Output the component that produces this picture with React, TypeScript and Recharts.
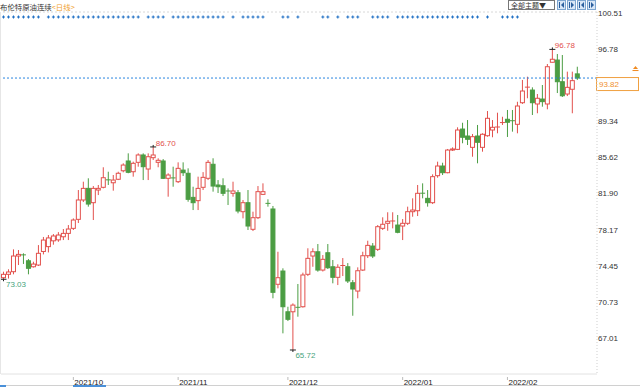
import React from "react";
import { Bar, ComposedChart, ReferenceLine, XAxis, YAxis } from "recharts";

// trading days, 2021-09-13 .. 2022-02-21
const dates = [
  "2021-09-13", "2021-09-14", "2021-09-15", "2021-09-16", "2021-09-17", "2021-09-20", "2021-09-21", "2021-09-22", "2021-09-23", "2021-09-24",
  "2021-09-27", "2021-09-28", "2021-09-29", "2021-09-30", "2021-10-01", "2021-10-04", "2021-10-05", "2021-10-06", "2021-10-07", "2021-10-08",
  "2021-10-11", "2021-10-12", "2021-10-13", "2021-10-14", "2021-10-15", "2021-10-18", "2021-10-19", "2021-10-20", "2021-10-21", "2021-10-22",
  "2021-10-25", "2021-10-26", "2021-10-27", "2021-10-28", "2021-10-29", "2021-11-01", "2021-11-02", "2021-11-03", "2021-11-04", "2021-11-05",
  "2021-11-08", "2021-11-09", "2021-11-10", "2021-11-11", "2021-11-12", "2021-11-15", "2021-11-16", "2021-11-17", "2021-11-18", "2021-11-19",
  "2021-11-22", "2021-11-23", "2021-11-24", "2021-11-25", "2021-11-26", "2021-11-29", "2021-11-30", "2021-12-01", "2021-12-02", "2021-12-03",
  "2021-12-06", "2021-12-07", "2021-12-08", "2021-12-09", "2021-12-10", "2021-12-13", "2021-12-14", "2021-12-15", "2021-12-16", "2021-12-17",
  "2021-12-20", "2021-12-21", "2021-12-22", "2021-12-23", "2021-12-24", "2021-12-27", "2021-12-28", "2021-12-29", "2021-12-30", "2021-12-31",
  "2022-01-03", "2022-01-04", "2022-01-05", "2022-01-06", "2022-01-07", "2022-01-10", "2022-01-11", "2022-01-12", "2022-01-13", "2022-01-14",
  "2022-01-17", "2022-01-18", "2022-01-19", "2022-01-20", "2022-01-21", "2022-01-24", "2022-01-25", "2022-01-26", "2022-01-27", "2022-01-28",
  "2022-01-31", "2022-02-01", "2022-02-02", "2022-02-03", "2022-02-04", "2022-02-07", "2022-02-08", "2022-02-09", "2022-02-10", "2022-02-11",
  "2022-02-14", "2022-02-15", "2022-02-16", "2022-02-17", "2022-02-18", "2022-02-21",
];

const opens = [
  73.19, 73.54, 73.81, 75.43, 75.55, 74.94, 74.32, 74.5, 75.9, 76.4,
  77.0, 77.1, 77.42, 77.77, 78.29, 79.22, 81.22, 82.42, 80.94, 82.25,
  82.53, 83.3, 83.0, 83.36, 84.24, 85.25, 84.14, 85.11, 85.87, 84.42,
  85.59, 85.11, 85.25, 83.46, 83.5, 83.11, 84.31, 83.98, 81.49, 81.15,
  82.53, 83.46, 84.91, 82.77, 82.69, 82.15, 81.91, 81.97, 80.01, 80.94,
  78.19, 79.39, 81.8, 80.87, 80.29, 72.51, 73.88, 69.67, 69.67, 70.13,
  70.19, 73.54, 75.43, 75.87, 73.98, 75.77, 74.32, 73.23, 74.43, 74.32,
  72.67, 71.81, 73.98, 75.46, 76.46, 76.12, 78.29, 78.81, 79.02, 78.63,
  78.53, 78.81, 80.01, 80.11, 81.92, 81.39, 80.94, 83.73, 84.73, 84.04,
  86.38, 86.45, 88.55, 87.83, 86.66, 87.83, 86.66, 87.86, 88.45, 88.73,
  89.2, 89.56, 89.41, 89.04, 91.27, 92.86, 92.58, 91.14, 91.65, 91.14,
  95.45, 95.68, 93.44, 92.17, 92.66, 94.25,
];
const highs = [
  73.81, 74.06, 76.12, 76.05, 75.71, 75.12, 74.84, 76.56, 77.4, 77.6,
  77.7, 77.9, 78.22, 78.63, 79.32, 82.25, 83.11, 83.46, 82.66, 82.77,
  84.6, 84.14, 83.8, 84.14, 85.01, 86.04, 85.18, 86.04, 86.04, 86.04,
  86.7, 85.53, 85.45, 83.98, 84.66, 85.11, 85.11, 84.49, 82.59, 83.63,
  84.1, 85.35, 85.53, 83.28, 83.46, 82.42, 83.11, 82.25, 81.22, 82.25,
  80.01, 82.66, 82.94, 81.29, 80.6, 75.87, 74.16, 70.19, 70.54, 72.54,
  73.71, 76.23, 76.23, 76.67, 75.53, 76.67, 75.02, 74.58, 75.22, 74.7,
  72.95, 74.26, 75.87, 77.01, 76.77, 78.63, 79.43, 79.95, 79.95, 79.67,
  79.25, 80.53, 81.39, 82.77, 82.94, 82.25, 83.87, 85.18, 85.07, 86.49,
  86.66, 88.73, 89.2, 89.48, 88.04, 88.97, 88.11, 90.41, 89.48, 90.24,
  89.82, 90.52, 90.52, 91.37, 93.62, 93.96, 92.86, 92.17, 93.1, 95.27,
  96.78, 96.3, 96.2, 94.48, 94.48, 94.99,
];
const lows = [
  73.03, 73.1, 73.54, 74.5, 74.61, 73.54, 74.24, 74.4, 75.6, 75.8,
  76.6, 76.9, 77.08, 77.08, 78.12, 78.84, 81.01, 80.53, 79.15, 81.73,
  82.42, 82.77, 82.18, 83.28, 84.08, 83.98, 83.63, 84.66, 83.28, 83.28,
  85.35, 84.6, 83.39, 81.56, 82.59, 82.97, 83.7, 81.04, 80.18, 80.18,
  82.25, 83.28, 82.08, 81.94, 81.63, 80.7, 81.56, 79.84, 79.32, 78.12,
  78.01, 79.25, 81.73, 80.53, 71.06, 72.09, 67.44, 68.71, 65.72, 69.16,
  70.1, 73.36, 74.32, 73.81, 73.83, 74.09, 72.61, 72.43, 73.36, 72.64,
  69.26, 71.06, 73.88, 75.22, 75.22, 75.95, 78.12, 78.04, 78.29, 77.78,
  77.08, 78.63, 79.49, 79.56, 81.39, 80.53, 80.8, 83.52, 83.8, 83.98,
  86.28, 86.38, 87.08, 86.9, 85.69, 85.01, 86.21, 87.76, 87.7, 88.11,
  88.97, 87.73, 88.28, 88.11, 91.14, 91.73, 90.0, 90.18, 90.86, 90.59,
  95.42, 92.27, 91.86, 91.96, 90.18, 93.62,
];
const closes = [
  73.54, 73.78, 75.43, 75.6, 75.52, 74.16, 74.6, 75.71, 77.08, 77.3,
  77.5, 77.6, 77.77, 78.22, 79.15, 81.22, 82.42, 80.8, 82.42, 82.42,
  83.52, 83.25, 83.28, 83.98, 84.83, 84.08, 85.01, 85.87, 84.66, 85.69,
  85.87, 85.32, 83.46, 83.8, 83.45, 84.49, 84.04, 81.29, 80.94, 82.42,
  83.56, 85.11, 82.66, 82.59, 81.91, 82.1, 82.15, 80.08, 80.94, 78.53,
  79.39, 82.08, 82.08, 80.82, 71.68, 73.19, 70.19, 68.89, 70.36, 70.1,
  73.47, 75.19, 75.87, 73.98, 75.09, 74.22, 73.23, 74.27, 74.45, 72.85,
  72.02, 73.91, 75.46, 76.53, 75.43, 78.46, 78.71, 79.02, 79.05, 77.88,
  78.81, 80.01, 80.18, 81.91, 81.88, 80.94, 83.63, 84.73, 84.04, 86.38,
  86.49, 88.45, 87.7, 87.49, 87.76, 87.18, 88.01, 89.66, 88.73, 88.76,
  89.22, 89.25, 89.31, 90.93, 92.48, 92.88, 91.27, 91.73, 91.38, 94.99,
  95.76, 93.44, 91.99, 92.86, 93.55, 93.82,
];

// days carrying a news marker in the strip above the chart
const eventDays = [
  0, 1, 2, 3, 4, 5, 6, 7,
  9, 10, 11, 12, 13, 14, 15, 16, 17, 18, 19, 20, 21, 22, 23, 24, 25, 26, 27,
  29, 30, 31, 32,
  34, 35, 36, 37, 38, 39, 40, 41, 42, 43, 44,
  46, 48, 49, 50, 51, 52, 56, 57, 59,
  64, 65, 67, 69, 70, 71, 74, 75, 76, 77,
  79, 80, 81, 82, 83, 84, 85, 86, 87, 88, 89, 90, 91, 92, 93, 94, 95,
  97, 100, 101, 102, 103,
];

const yTicks = [67.01, 70.73, 74.45, 78.17, 81.9, 85.62, 89.34, 96.78, 100.51];
const monthTicks = ["2021-10-01", "2021-11-01", "2021-12-01", "2022-01-03", "2022-02-01"];

const title = "布伦特原油连续";
const period = "<日线>";
const themeBtn = "全部主题▼";

const UP = "#e2504c";
const DOWN = "#4b9d43";

const data = dates.map((date, i) => ({
  date,
  open: opens[i],
  high: highs[i],
  low: lows[i],
  close: closes[i],
  event: eventDays.includes(i),
}));

const lastClose = closes[closes.length - 1];
const hiIdx = highs.indexOf(Math.max(...highs));
const loIdx = lows.indexOf(Math.min(...lows));
// the left-hand swing points that also carry a price label
const leftHiIdx = 30;
const leftLoIdx = 0;

const Candle = (props: any) => {
  const { x, y, width, height, payload, index } = props;
  const { open, close, high, low } = payload;
  const cx = x + width / 2;
  const span = high - low || 1;
  const toY = (v: number) => y + ((high - v) / span) * height;
  const up = close >= open;
  const color = up ? UP : DOWN;
  const top = toY(Math.max(open, close));
  const bot = toY(Math.min(open, close));
  const bw = 4;
  const hiY = toY(high);
  const loY = toY(low);
  return (
    <g>
      <line x1={cx} x2={cx} y1={hiY} y2={loY} stroke={color} strokeWidth={1} />
      {bot - top < 1 ? (
        <line x1={cx - 2.5} x2={cx + 2.5} y1={top} y2={top} stroke={color} strokeWidth={1} />
      ) : (
        <rect
          x={cx - bw / 2}
          y={top}
          width={bw}
          height={bot - top}
          fill={up ? "#fff" : DOWN}
          stroke={color}
          strokeWidth={1}
        />
      )}
      {payload.event && (
        <g fill="#1f6fc4">
          <rect x={cx - 1.5} y={16.5} width={3} height={1} />
          <rect x={cx - 0.5} y={15.5} width={1} height={3} />
        </g>
      )}
      {index === hiIdx || index === leftHiIdx ? (
        <g>
          <line x1={cx - 3} x2={cx + 3} y1={hiY} y2={hiY} stroke="#222" />
          <line x1={cx} x2={cx} y1={hiY - 2} y2={hiY} stroke="#222" />
          <text x={cx + 2.5} y={hiY - 1} fontSize={8} fill={UP}>
            {high.toFixed(2)}
          </text>
        </g>
      ) : null}
      {index === loIdx || index === leftLoIdx ? (
        <g>
          <line x1={cx - 3} x2={cx + 3} y1={loY} y2={loY} stroke="#222" />
          <line x1={cx} x2={cx} y1={loY} y2={loY + 2} stroke="#222" />
          <text x={cx + 2.5} y={loY + 8} fontSize={8} fill="#45a37c">
            {low.toFixed(2)}
          </text>
        </g>
      ) : null}
    </g>
  );
};

const MonthTick = (props: any) => {
  const { x, y, payload } = props;
  const label = payload.value.slice(0, 7).replace("-", "/");
  return (
    <g>
      <line x1={x} x2={x} y1={y + 1} y2={y + 4} stroke="#bbb" />
      <text x={x + 1} y={y + 8.5} fontSize={8} fill="#222">
        {label}
      </text>
    </g>
  );
};

const PriceTick = (props: any) => {
  const { x, y, payload } = props;
  return (
    <text x={x} y={y + 3} fontSize={8} fill="#333" textAnchor="start">
      {Number(payload.value).toFixed(2)}
    </text>
  );
};

const PriceTag = (props: any) => {
  const { viewBox } = props;
  const right = viewBox.x + viewBox.width;
  const ly = viewBox.y;
  return (
    <g>
      <rect x={right - 0.5} y={ly - 0.5} width={42} height={13} fill="#fff" stroke="#f0a040" />
      <text x={right + 2} y={ly + 9} fontSize={8} fill="#f09030">
        {lastClose.toFixed(2)}
      </text>
      <path d={`M${right + 36} ${ly - 9} L${right + 38.5} ${ly - 12} L${right + 41} ${ly - 9} Z`} fill="#f08a20" />
      <line x1={right + 35.5} x2={right + 41.5} y1={ly - 7.5} y2={ly - 7.5} stroke="#f08a20" />
    </g>
  );
};

export default function App() {
  return (
    <div
      style={{
        position: "absolute",
        left: 0,
        top: 0,
        width: 640,
        height: 387,
        background: "#fff",
        fontFamily: "'Liberation Sans', Arial, sans-serif",
      }}
    >
      <ComposedChart width={640} height={387} data={data} margin={{ top: 12, right: 0, bottom: 0, left: 1 }}>
        <XAxis
          dataKey="date"
          ticks={monthTicks}
          tick={<MonthTick />}
          tickLine={false}
          tickSize={0}
          height={13}
          interval={0}
          axisLine={{ stroke: "#e2e2e2" }}
          padding={{ left: 0, right: 17.2 }}
        />
        <YAxis
          orientation="right"
          width={43}
          domain={[63.24, 100.644]}
          allowDataOverflow
          ticks={yTicks}
          tick={<PriceTick />}
          tickLine={false}
          tickSize={0}
          tickMargin={1}
          axisLine={{ stroke: "#cfcfcf", strokeDasharray: "1 2" }}
        />
        <ReferenceLine y={100.644} stroke="#d8d8d8" strokeDasharray="2 2" />
        <ReferenceLine y={lastClose} stroke="#2a86e0" strokeDasharray="2 2" label={<PriceTag />} />
        <Bar
          dataKey={(d: any) => [d.low, d.high]}
          shape={<Candle />}
          isAnimationActive={false}
          barCategoryGap={0}
        />
      </ComposedChart>
      <svg
        width={640}
        height={387}
        style={{ position: "absolute", left: 0, top: 0, pointerEvents: "none" }}
      >
        <text x={0} y={10} fontSize={7.4} fill="#333" fontFamily="'Noto Sans CJK SC', sans-serif">
          {title}
          <tspan fill="#f0a030">{period}</tspan>
        </text>
        <rect x={508.5} y={0.5} width={46} height={9} fill="#fff" stroke="#777" />
        <text x={511} y={8} fontSize={7} fill="#333" fontFamily="'Noto Sans CJK SC', sans-serif">
          {themeBtn}
        </text>
        {[557, 567, 577, 587].map((bx, k) => (
          <g key={bx}>
            <rect x={bx + 0.5} y={0.5} width={8} height={9} fill="#d9e7f6" stroke="#7ea6d0" />
            <rect x={bx + 2} y={2} width={1} height={6} fill="#2b5f9e" />
            <path
              d={k % 2 === 0 ? `M${bx + 7} 2 L${bx + 4} 5 L${bx + 7} 8 Z` : `M${bx + 4} 2 L${bx + 7} 5 L${bx + 4} 8 Z`}
              fill="#2b5f9e"
            />
          </g>
        ))}
        <line x1={0.5} x2={0.5} y1={12} y2={374} stroke="#e6e6e6" />
        <line x1={0} x2={640} y1={385.5} y2={385.5} stroke="#d0d0d0" />
        <rect x={0} y={385} width={6} height={2} fill="#4a90d9" />
        <rect x={73} y={385} width={33} height={2} fill="#4a90d9" />
      </svg>
    </div>
  );
}
